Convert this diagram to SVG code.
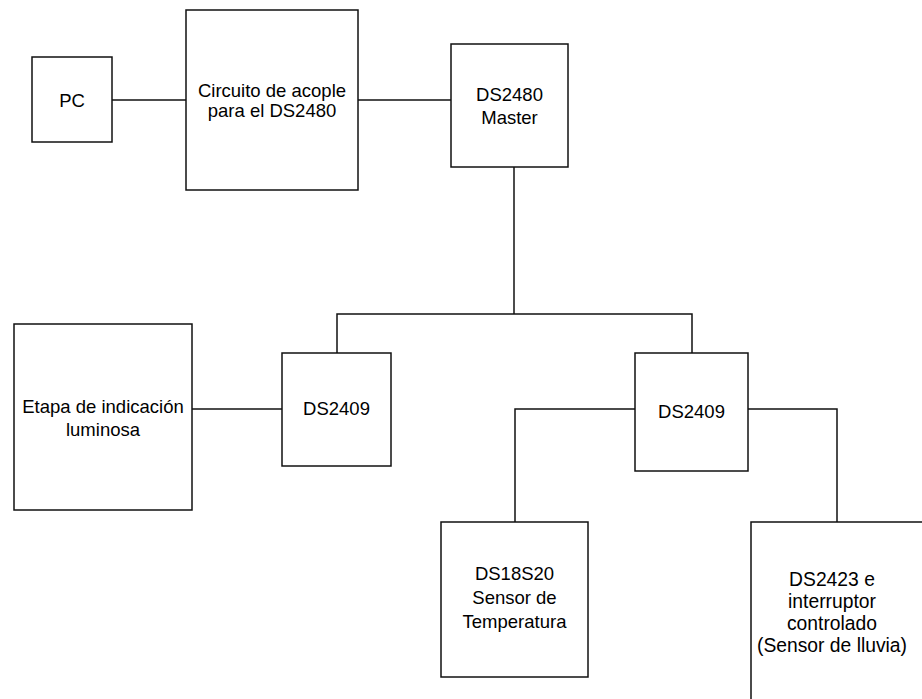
<svg xmlns="http://www.w3.org/2000/svg" width="922" height="699" viewBox="0 0 922 699">
<style>
.box{fill:#fff;stroke:#111;stroke-width:1.5}
.wire{fill:none;stroke:#111;stroke-width:1.5}
text{font-family:"Liberation Sans",Arial,sans-serif;font-size:18.5px;fill:#000;text-anchor:middle}
.big{font-size:19.3px}
</style>
<rect width="922" height="699" fill="#fff"/>
<g id="connectors">
<path class="wire" d="M112,100 H186"/>
<path class="wire" d="M358,100 H451"/>
<path class="wire" d="M514,167 V314"/>
<path class="wire" d="M337,353 V314 H692 V353"/>
<path class="wire" d="M192,409 H282"/>
<path class="wire" d="M635,409 H515 V522"/>
<path class="wire" d="M748,409 H837 V522"/>
</g>
<g id="pc">
<rect class="box" x="32" y="57" width="80" height="85"/>
<text x="72" y="107">PC</text>
</g>
<g id="circuito">
<rect class="box" x="186" y="10" width="172" height="180"/>
<text x="272" y="97">Circuito de acople</text>
<text x="272" y="117">para el DS2480</text>
</g>
<g id="ds2480">
<rect class="box" x="451" y="44" width="117" height="123"/>
<text x="509.5" y="101">DS2480</text>
<text x="509.5" y="124">Master</text>
</g>
<g id="etapa">
<rect class="box" x="14" y="324" width="178" height="186"/>
<text x="103" y="413">Etapa de indicación</text>
<text x="103" y="436">luminosa</text>
</g>
<g id="ds2409a">
<rect class="box" x="282" y="353" width="109" height="113"/>
<text x="336.5" y="415">DS2409</text>
</g>
<g id="ds2409b">
<rect class="box" x="635" y="353" width="113" height="118"/>
<text x="691.5" y="418">DS2409</text>
</g>
<g id="ds18s20">
<rect class="box" x="441" y="522" width="147" height="155"/>
<text x="514.5" y="580">DS18S20</text>
<text x="514.5" y="604">Sensor de</text>
<text x="514.5" y="628">Temperatura</text>
</g>
<g id="ds2423">
<rect class="box" x="751" y="522" width="180" height="220"/>
<text class="big" x="832" y="586">DS2423 e</text>
<text class="big" x="832" y="608">interruptor</text>
<text class="big" x="832" y="630">controlado</text>
<text class="big" x="832" y="652">(Sensor de lluvia)</text>
</g>
</svg>
